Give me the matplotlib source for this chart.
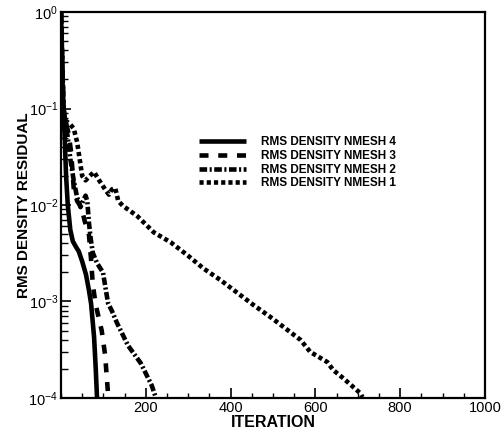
import matplotlib
matplotlib.use("Agg")
import matplotlib.pyplot as plt
import numpy as np
from matplotlib.ticker import FixedLocator, LogLocator, MultipleLocator, NullFormatter, FixedFormatter

plt.rcParams['font.family'] = ['Liberation Sans', 'DejaVu Sans']
plt.rcParams['mathtext.default'] = 'regular'
plt.rcParams['lines.scale_dashes'] = False

# NMESH 4 (solid)
it4 = [0, 2, 4, 7, 12, 16, 22, 28, 35, 42, 50, 59, 66, 71, 78, 82, 85]
res4 = [1.0, 0.4, 0.15, 0.08, 0.02, 0.01, 0.0055, 0.0042, 0.0037, 0.0033, 0.0026,
        0.0019, 0.0013, 9.5e-4, 4.3e-4, 2.0e-4, 1.0e-4]
# NMESH 3 (dashed)
it3 = [0, 3, 6, 12, 18, 24, 30, 38, 48, 56, 62, 66, 71, 75, 82, 96, 104, 111, 113]
res3 = [1.0, 0.3, 0.1, 0.07, 0.055, 0.035, 0.015, 0.011, 0.0095, 0.0068, 0.0055,
        0.0049, 0.0027, 0.0015, 9.2e-4, 5.0e-4, 2.8e-4, 1.1e-4, 1.0e-4]
# NMESH 2 (dash-dot)
it2 = [0, 3, 6, 10, 16, 22, 30, 38, 46, 52, 58, 62, 66, 70, 75, 85, 99, 111, 120,
       132, 158, 188, 214, 224]
res2 = [1.0, 0.3, 0.1, 0.075, 0.05, 0.03, 0.018, 0.012, 0.0095, 0.011, 0.0125, 0.011,
        0.0065, 0.0045, 0.0032, 0.0025, 0.002, 9.6e-4, 8.0e-4, 6.0e-4, 3.5e-4,
        2.3e-4, 1.35e-4, 1.0e-4]
# NMESH 1 (dotted)
it1 = [0, 3, 6, 10, 20, 30, 38, 44, 50, 58, 68, 78, 90, 105, 113, 120, 128, 135, 146,
       176, 181, 219, 259, 299, 336, 376, 416, 454, 494, 565, 588, 628, 642, 666,
       706, 711]
res1 = [1.0, 0.3, 0.1, 0.075, 0.07, 0.062, 0.045, 0.03, 0.02, 0.018, 0.02, 0.022,
        0.018, 0.0143, 0.0128, 0.0145, 0.015, 0.011, 0.0098, 0.0079, 0.0076, 0.0052,
        0.0041, 0.0030, 0.0022, 0.00167, 0.00123, 9.2e-4, 6.9e-4, 4.0e-4, 3.0e-4,
        2.36e-4, 1.95e-4, 1.6e-4, 1.12e-4, 1.02e-4]

labels = ["RMS DENSITY NMESH 4", "RMS DENSITY NMESH 3",
          "RMS DENSITY NMESH 2", "RMS DENSITY NMESH 1"]
xticks = [200, 400, 600, 800, 1000]
xticklabels = ["200", "400", "600", "800", "1000"]
yticks = [1e-4, 1e-3, 1e-2, 1e-1, 1e0]
yticklabels = ["10$^{-4}$", "10$^{-3}$", "10$^{-2}$", "10$^{-1}$", "10$^{0}$"]

fig = plt.figure(figsize=(5.02, 4.40), dpi=100)
ax = fig.add_axes([0.1215, 0.0955, 0.966 - 0.1215, 0.9727 - 0.0955])

lw = 3.3
ax.plot(it4, res4, color='black', lw=lw, solid_capstyle='butt', label=labels[0])
ax.plot(it3, res3, color='black', lw=lw, dashes=(6.5, 7), dash_capstyle='butt', label=labels[1])
ax.plot(it2, res2, color='black', lw=lw, dashes=(5.5, 1.8, 1.5, 1.8), dash_capstyle='butt', label=labels[2])
ax.plot(it1, res1, color='black', lw=lw, dashes=(3.0, 2.2), dash_capstyle='butt', label=labels[3])

ax.set_yscale('log')
ax.set_xlim(0, 1000)
ax.set_ylim(1e-4, 1)

ax.xaxis.set_major_locator(FixedLocator(xticks))
ax.xaxis.set_major_formatter(FixedFormatter(xticklabels))
ax.xaxis.set_minor_locator(MultipleLocator(50))
ax.yaxis.set_major_locator(FixedLocator(yticks))
ax.yaxis.set_major_formatter(FixedFormatter(yticklabels))
ax.yaxis.set_minor_locator(LogLocator(base=10, subs=np.arange(2, 10), numticks=20))
ax.yaxis.set_minor_formatter(NullFormatter())

ax.tick_params(axis='both', which='major', direction='in', length=7, width=1.2,
               labelsize=10.5, top=False, right=False, pad=2)
ax.tick_params(axis='y', which='minor', direction='in', length=5, width=1.0)
ax.tick_params(axis='x', which='minor', direction='in', length=3.5, width=1.0, top=False)
for s in ax.spines.values():
    s.set_linewidth(1.6)

ax.set_xlabel("ITERATION", fontsize=11.5, fontweight='bold', labelpad=0)
ax.set_ylabel("RMS DENSITY RESIDUAL", fontsize=11, fontweight='bold', labelpad=-2)

leg = ax.legend(loc='upper left', bbox_to_anchor=(0.315, 0.69), frameon=False,
                prop={'size': 8.5, 'weight': 'bold'}, handlelength=4.0,
                handletextpad=1.2, labelspacing=0.14, borderaxespad=0)

fig.savefig("out.png", dpi=100)
